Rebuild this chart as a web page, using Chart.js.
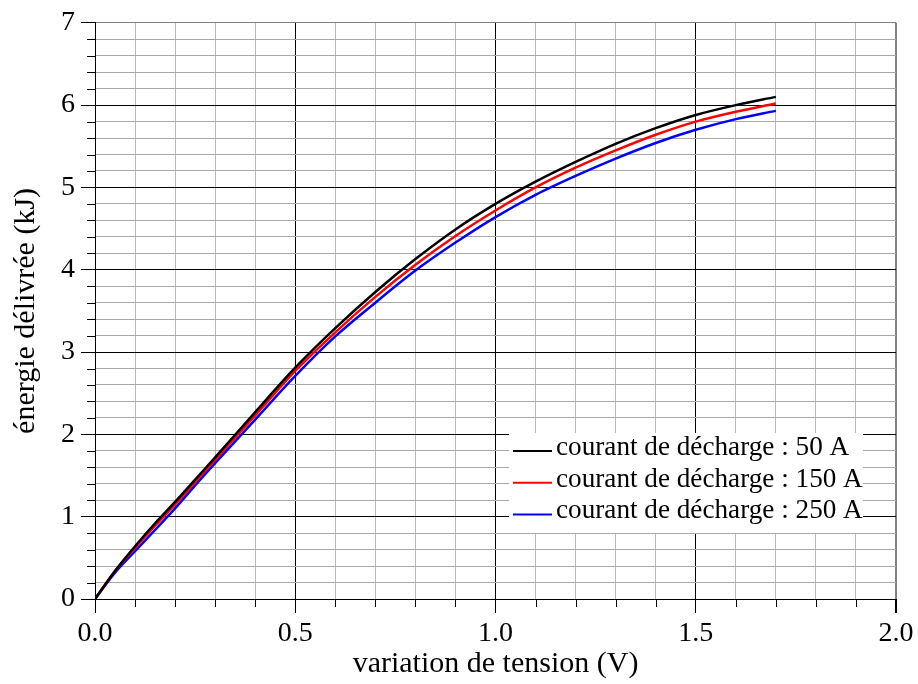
<!DOCTYPE html>
<html><head><meta charset="utf-8">
<script src="https://cdn.jsdelivr.net/npm/chart.js@4.4.0/dist/chart.umd.min.js"></script>
<style>html,body{margin:0;padding:0;background:#fff;} #wrap{width:918px;height:684px;position:relative;}</style>
</head><body><div id="wrap"><canvas id="c" width="918" height="684"></canvas></div>
<script>
const voltage   = [0, 0.05, 0.1, 0.15, 0.2, 0.25, 0.3, 0.4, 0.5, 0.6, 0.7, 0.8, 0.9, 1.0, 1.1, 1.2, 1.3, 1.4, 1.5, 1.6, 1.7];
const energy50  = [0, 0.34, 0.64, 0.92, 1.18, 1.45, 1.72, 2.27, 2.81, 3.29, 3.73, 4.13, 4.49, 4.80, 5.07, 5.31, 5.53, 5.72, 5.88, 6.00, 6.10];
const energy150 = [0, 0.34, 0.62, 0.89, 1.15, 1.42, 1.69, 2.23, 2.77, 3.24, 3.67, 4.06, 4.41, 4.72, 5.00, 5.24, 5.45, 5.64, 5.80, 5.92, 6.02];
const energy250 = [0, 0.32, 0.58, 0.84, 1.10, 1.38, 1.65, 2.18, 2.71, 3.19, 3.60, 3.99, 4.33, 4.64, 4.91, 5.14, 5.35, 5.54, 5.70, 5.83, 5.93];
const seriesLabels = ['courant de décharge : 50 A', 'courant de décharge : 150 A', 'courant de décharge : 250 A'];
const seriesColors = ['#000000', '#ff0000', '#0000ff'];
const xTickLabels = ['0.0', '0.5', '1.0', '1.5', '2.0'];
const yTickLabels = ['0', '1', '2', '3', '4', '5', '6', '7'];
const xTitle = 'variation de tension (V)';
const yTitle = 'énergie délivrée (kJ)';

const FONT = '"Liberation Serif", "Times New Roman", serif';
const toPts = ys => voltage.map((v, i) => ({x: v, y: ys[i]}));
const allSeries = [energy50, energy150, energy250];

const isMult = (v, step) => Math.abs(v / step - Math.round(v / step)) < 1e-6;

const minorTicks = {
  id: 'minorTicks',
  afterDraw(chart) {
    const ctx = chart.ctx;
    ctx.save();
    ctx.strokeStyle = '#000';
    ctx.lineWidth = 1;
    const xs = chart.scales.x, ys = chart.scales.y;
    const b = chart.chartArea.bottom, l = chart.chartArea.left;
    xs.ticks.forEach(t => {
      if (!isMult(t.value, 0.5)) {
        const px = Math.round(xs.getPixelForValue(t.value)) + 0.5;
        ctx.beginPath(); ctx.moveTo(px, b); ctx.lineTo(px, b + 8); ctx.stroke();
      }
    });
    ys.ticks.forEach(t => {
      if (!isMult(t.value, 1)) {
        const py = Math.round(ys.getPixelForValue(t.value)) + 0.5;
        ctx.beginPath(); ctx.moveTo(l - 8, py); ctx.lineTo(l, py); ctx.stroke();
      }
    });
    ctx.restore();
  }
};

const boxLegend = {
  id: 'boxLegend',
  afterDatasetsDraw(chart) {
    const ctx = chart.ctx;
    const a = chart.chartArea;
    const bx = a.right - 387, by = a.bottom - 166, bw = 354, bh = 100;
    ctx.save();
    ctx.fillStyle = '#ffffff';
    ctx.fillRect(bx, by, bw, bh);
    ctx.font = '27.2px ' + FONT;
    ctx.textBaseline = 'alphabetic';
    ctx.textAlign = 'left';
    chart.data.datasets.forEach((ds, i) => {
      const base = by + 22 + i * 31.7;
      ctx.strokeStyle = ds.borderColor;
      ctx.lineWidth = 2;
      ctx.beginPath(); ctx.moveTo(bx + 4, base - 4); ctx.lineTo(bx + 43, base - 4); ctx.stroke();
      ctx.fillStyle = '#000';
      ctx.fillText(ds.label, bx + 47, base);
    });
    ctx.restore();
  }
};

new Chart(document.getElementById('c'), {
  type: 'line',
  data: {
    datasets: allSeries.map((s, i) => ({
      label: seriesLabels[i],
      data: toPts(s),
      borderColor: seriesColors[i],
      backgroundColor: seriesColors[i],
      borderWidth: 2.5,
      pointRadius: 0,
      fill: false,
      cubicInterpolationMode: 'monotone'
    }))
  },
  options: {
    responsive: false,
    animation: false,
    devicePixelRatio: 1,
    layout: {padding: {top: 21, right: 22, left: 0, bottom: 0}},
    plugins: {legend: {display: false}, tooltip: {enabled: false}},
    scales: {
      x: {
        type: 'linear', min: 0, max: 2,
        afterFit(s) { s.height = 85; },
        ticks: {
          stepSize: 0.1, autoSkip: false, maxRotation: 0, color: '#000', padding: 4,
          font: {family: FONT, size: 28},
          callback: v => isMult(v, 0.5) ? xTickLabels[Math.round(v * 2)] : ''
        },
        grid: {
          color: c => {
            const v = c.tick ? c.tick.value : 0;
            if (isMult(v, 2) && v > 0) return '#808080';
            return isMult(v, 0.5) ? '#000000' : '#b8b8b8';
          },
          lineWidth: c => (c.tick && c.tick.value > 1.99) ? 2 : 1,
          tickLength: 14,
          tickColor: c => (c.tick && isMult(c.tick.value, 0.5)) ? '#000' : 'rgba(0,0,0,0)'
        },
        border: {color: '#000', width: 1},
        title: {display: true, text: xTitle, color: '#000', font: {family: FONT, size: 30}, padding: {top: 0, bottom: 2}}
      },
      y: {
        type: 'linear', min: 0, max: 7,
        afterFit(s) { s.width = 95; },
        ticks: {
          stepSize: 0.2, autoSkip: false, color: '#000', padding: 6,
          font: {family: FONT, size: 28},
          callback: v => isMult(v, 1) ? yTickLabels[Math.round(v)] : ''
        },
        grid: {
          color: c => {
            const v = c.tick ? c.tick.value : 0;
            if (v > 6.99) return '#808080';
            return isMult(v, 1) ? '#000000' : '#a8a8a8';
          },
          tickLength: 14,
          tickColor: c => (c.tick && isMult(c.tick.value, 1)) ? '#000' : 'rgba(0,0,0,0)'
        },
        border: {color: '#000', width: 1},
        title: {display: true, text: yTitle, color: '#000', font: {family: FONT, size: 30}, padding: {top: 8, bottom: 0}}
      }
    }
  },
  plugins: [minorTicks, boxLegend]
});
</script></body></html>
